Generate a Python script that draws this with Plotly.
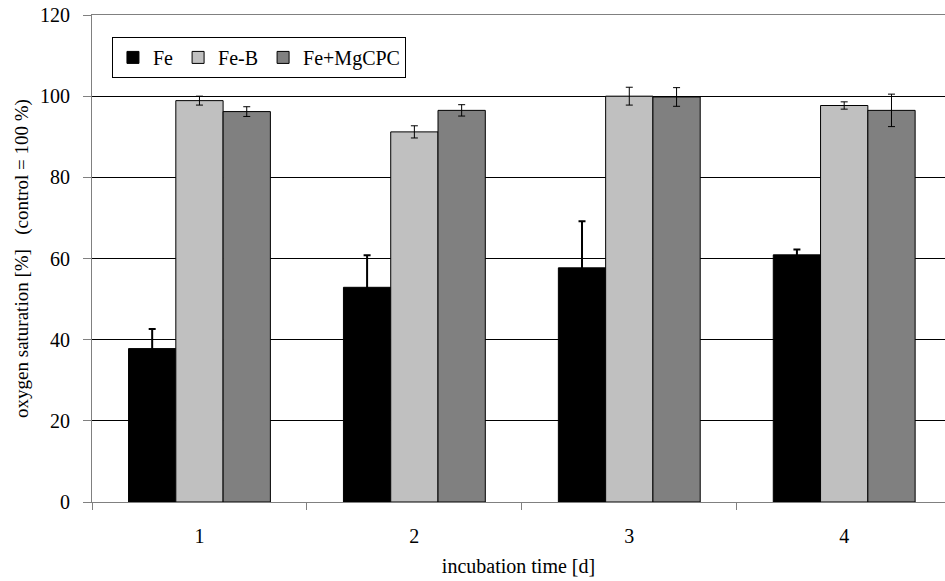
import plotly.graph_objects as go

days = ["1", "2", "3", "4"]
series_names = ["Fe", "Fe-B", "Fe+MgCPC"]
fe = [37.8, 52.9, 57.7, 60.9]
fe_err = [4.8, 7.9, 11.5, 1.3]
feb = [98.9, 91.2, 100.0, 97.7]
feb_err = [1.1, 1.5, 2.2, 0.9]
fem = [96.2, 96.5, 99.8, 96.5]
fem_err = [1.2, 1.4, 2.3, 4.0]
colors = ["#000000", "#C0C0C0", "#808080"]
yticks = [0, 20, 40, 60, 80, 100, 120]

FONT = "Liberation Serif"

fig = go.Figure()
for name, vals, errs, col, th in [
    (series_names[0], fe, fe_err, colors[0], 2),
    (series_names[1], feb, feb_err, colors[1], 1),
    (series_names[2], fem, fem_err, colors[2], 1),
]:
    fig.add_trace(go.Bar(
        x=days, y=vals, name=name,
        marker=dict(color=col, line=dict(color="#000000", width=1)),
        error_y=dict(type="data", array=errs, visible=True,
                     color="#000000", thickness=th, width=3.5),
    ))

fig.update_layout(
    width=945, height=581,
    margin=dict(l=92, r=0, t=15, b=79),
    paper_bgcolor="white", plot_bgcolor="white",
    barmode="group", bargap=0.34, bargroupgap=0,
    font=dict(family=FONT, size=20, color="#000000"),
    legend=dict(orientation="h", x=0.0234, y=0.955, xanchor="left", yanchor="top",
                bordercolor="#000000", borderwidth=1, bgcolor="white",
                font=dict(family=FONT, size=20), itemwidth=30,
                traceorder="normal"),
    xaxis=dict(type="category", range=[-0.5, 3.469],
               tickson="boundaries", ticks="outside", ticklen=7, tickcolor="#808080",
               showline=True, linecolor="#808080", linewidth=1, mirror=True,
               showgrid=False, ticklabelstandoff=16,
               tickfont=dict(family=FONT, size=20),
               title=dict(text="incubation time [d]", font=dict(family=FONT, size=20), standoff=12)),
    yaxis=dict(range=[0, 120], tickvals=yticks, ticks="outside", ticklen=8, tickcolor="#808080",
               showline=True, linecolor="#808080", linewidth=1,
               showgrid=True, gridcolor="#000000", gridwidth=1, zeroline=False,
               ticklabelstandoff=9,
               tickfont=dict(family=FONT, size=20),
               title=dict(text="oxygen saturation [%]   (control = 100 %)",
                          font=dict(family=FONT, size=19), standoff=6)),
)

fig.write_html("out.html")
